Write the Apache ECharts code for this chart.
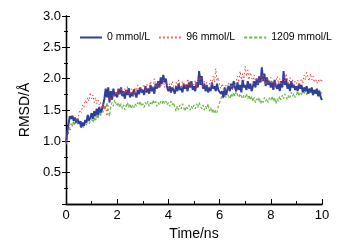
<!DOCTYPE html>
<html><head><meta charset="utf-8">
<script src="https://cdn.jsdelivr.net/npm/echarts@6/dist/echarts.min.js"></script>
<style>html,body{margin:0;padding:0;background:#fff}#c{width:350px;height:249px}</style>
</head><body><div id="c"></div>
<script>
var timeStep = 0.05;
var seriesNames = ['0 mmol/L', '96 mmol/L', '1209 mmol/L'];
var xTicks = [0, 2, 4, 6, 8, 10];
var yTicks = [0.5, 1.0, 1.5, 2.0, 2.5, 3.0];

var rmsd0 = [
0.98,1.15,1.28,1.40,1.36,1.41,1.33,1.38,1.30,1.36,1.28,1.32,1.22,1.30,1.25,1.34,1.30,1.42,1.33,1.38,
1.45,1.36,1.48,1.40,1.52,1.42,1.55,1.46,1.50,1.58,1.68,1.84,1.70,1.86,1.62,1.80,1.66,1.84,1.72,1.78,
1.70,1.84,1.75,1.86,1.72,1.80,1.68,1.82,1.74,1.85,1.70,1.78,1.72,1.83,1.76,1.70,1.82,1.75,1.86,1.78,
1.82,1.74,1.88,1.78,1.84,1.76,1.90,1.80,1.86,1.76,1.92,1.84,1.96,1.86,2.02,1.92,2.06,1.94,2.00,1.86,
1.80,1.88,1.78,1.86,1.82,1.76,1.88,1.80,1.92,1.82,1.86,1.78,1.92,1.84,1.90,1.80,1.94,1.86,1.96,1.82,
1.88,1.80,1.94,1.86,2.12,1.90,2.04,1.84,1.92,1.80,1.90,1.78,1.86,1.80,1.94,1.84,1.88,1.80,1.92,1.82,
1.84,1.76,1.80,1.70,1.86,1.74,1.82,1.88,1.80,1.92,1.84,1.96,1.86,1.80,1.94,1.82,1.90,1.78,1.98,1.86,
1.90,1.82,1.96,1.84,1.92,1.80,1.88,1.96,1.86,2.00,1.90,2.04,1.94,2.18,1.96,2.08,1.88,2.02,1.90,1.96,
1.86,1.94,1.82,1.98,1.88,1.84,1.92,1.80,1.96,1.86,2.12,1.90,2.00,1.84,1.92,1.80,1.96,1.86,1.90,1.82,
1.88,1.80,1.92,1.84,1.90,1.78,1.86,1.80,1.88,1.76,1.84,1.78,1.86,1.74,1.82,1.76,1.84,1.72,1.80,1.70,
1.66];
var rmsd96 = [
1.00,1.08,1.15,1.12,1.20,1.25,1.32,1.28,1.36,1.30,1.42,1.50,1.46,1.58,1.54,1.66,1.60,1.70,1.64,1.78,
1.68,1.74,1.62,1.70,1.60,1.66,1.58,1.62,1.52,1.60,1.50,1.58,1.40,1.56,1.62,1.70,1.66,1.76,1.72,1.80,
1.74,1.82,1.76,1.86,1.78,1.74,1.84,1.76,1.88,1.80,1.74,1.84,1.78,1.72,1.86,1.80,1.90,1.82,1.86,1.78,
1.84,1.90,1.80,1.92,1.86,1.82,1.96,1.88,1.84,2.00,1.90,1.86,1.94,1.84,1.92,1.88,1.98,1.86,1.94,1.90,
1.84,1.92,1.86,1.96,1.88,1.82,1.94,1.86,1.98,1.90,1.84,1.96,1.88,1.92,1.86,2.00,1.90,1.96,1.88,1.94,
1.90,1.98,1.86,2.02,1.94,2.06,1.92,1.86,1.96,1.88,1.94,1.84,1.92,1.98,1.88,2.04,1.94,2.16,1.96,2.02,
1.90,1.84,1.92,1.86,1.80,1.90,1.84,1.94,1.86,1.90,1.82,1.92,1.88,1.96,2.04,1.94,2.12,1.98,2.08,1.96,
2.20,2.04,2.14,1.98,2.10,2.02,1.94,2.06,1.96,2.02,1.92,1.98,2.06,1.94,2.08,1.98,1.90,2.00,1.92,1.96,
2.02,1.92,1.98,1.88,1.96,2.04,1.92,2.00,1.90,1.96,2.04,1.94,2.08,1.98,1.92,2.02,1.94,1.98,1.90,1.96,
1.92,1.98,1.88,1.94,2.00,1.92,2.06,1.98,2.10,2.02,1.96,2.08,1.98,2.04,1.94,2.00,1.92,1.98,1.94,2.00,
1.96];
var rmsd1209 = [
0.95,1.05,1.15,1.22,1.28,1.24,1.32,1.26,1.34,1.28,1.30,1.24,1.32,1.26,1.22,1.30,1.26,1.34,1.28,1.32,
1.36,1.30,1.38,1.32,1.42,1.36,1.46,1.40,1.52,1.46,1.58,1.52,1.62,1.48,1.40,1.56,1.62,1.56,1.66,1.60,
1.56,1.62,1.54,1.60,1.52,1.58,1.50,1.56,1.62,1.54,1.60,1.52,1.58,1.54,1.60,1.56,1.62,1.58,1.64,1.56,
1.60,1.54,1.62,1.58,1.64,1.56,1.62,1.58,1.66,1.60,1.64,1.56,1.62,1.58,1.64,1.60,1.66,1.60,1.64,1.58,
1.62,1.56,1.64,1.58,1.62,1.54,1.48,1.56,1.50,1.58,1.52,1.60,1.54,1.48,1.56,1.52,1.58,1.50,1.56,1.52,
1.58,1.52,1.60,1.54,1.62,1.56,1.52,1.58,1.50,1.56,1.52,1.60,1.48,1.54,1.46,1.52,1.44,1.50,1.46,1.56,
1.62,1.68,1.74,1.68,1.76,1.70,1.78,1.72,1.68,1.76,1.70,1.78,1.72,1.80,1.74,1.70,1.76,1.72,1.68,1.74,
1.70,1.76,1.68,1.74,1.66,1.72,1.64,1.70,1.62,1.68,1.64,1.70,1.60,1.66,1.62,1.70,1.64,1.68,1.62,1.70,
1.66,1.72,1.64,1.70,1.60,1.68,1.64,1.72,1.66,1.74,1.68,1.76,1.70,1.66,1.74,1.70,1.78,1.72,1.76,1.70,
1.74,1.80,1.72,1.78,1.74,1.82,1.76,1.80,1.74,1.82,1.76,1.84,1.78,1.74,1.80,1.76,1.84,1.78,1.82,1.76,
1.78];
var seriesColors = ['#2f3f9c', '#e8403a', '#6cb844'];

function pairs(arr){ return arr.map(function(v,i){ return [+(i*timeStep).toFixed(2), v]; }); }

var chart = echarts.init(document.getElementById('c'), null, {renderer:'canvas'});
var font = 'Liberation Sans, Arial, sans-serif';
var axisLine = {show:true, lineStyle:{color:'#000', width:1.3}};
chart.setOption({
  animation:false,
  backgroundColor:'#fff',
  grid:{left:66, right:28, top:16, bottom:45, containLabel:false},
  legend:{
    top:27, left:74, width:300, itemWidth:22, itemHeight:6, itemGap:8,
    itemStyle:{opacity:0},
    textStyle:{fontFamily:font, fontSize:10.5, color:'#000'},
    data:seriesNames
  },
  xAxis:[{
    type:'value', min:0, max:10, interval:2,
    name:'Time/ns', nameLocation:'middle', nameGap:23,
    nameTextStyle:{fontFamily:font, fontSize:14, color:'#000'},
    axisLine:axisLine,
    axisTick:{show:true, inside:true, length:5, lineStyle:{color:'#000'}},
    minorTick:{show:true, splitNumber:2, length:3, lineStyle:{color:'#000'}},
    axisLabel:{fontFamily:font, fontSize:13, color:'#000', margin:5,
      formatter:function(v){ return xTicks.indexOf(v)>=0 ? String(v) : ''; }},
    splitLine:{show:false}
  },{
    type:'value', min:0, max:10, interval:2, position:'top',
    axisLine:axisLine,
    axisTick:{show:true, inside:false, length:4, lineStyle:{color:'#000'}},
    minorTick:{show:true, splitNumber:2, length:2, lineStyle:{color:'#000'}},
    axisLabel:{show:false}, splitLine:{show:false}
  }],
  yAxis:[{
    type:'value', min:0, max:3, interval:0.5,
    name:'RMSD/Å', nameLocation:'middle', nameGap:30, nameRotate:90,
    nameTextStyle:{fontFamily:font, fontSize:14, color:'#000'},
    axisLine:axisLine,
    axisTick:{show:true, inside:false, length:4, lineStyle:{color:'#000'}},
    minorTick:{show:true, splitNumber:2, length:2, lineStyle:{color:'#000'}},
    axisLabel:{fontFamily:font, fontSize:13, color:'#000', margin:5,
      formatter:function(v){ var r=Math.round(v*10)/10; return yTicks.indexOf(r)>=0 ? r.toFixed(1) : ''; }},
    splitLine:{show:false}
  },{
    type:'value', min:0, max:3, interval:0.5, position:'right',
    axisLine:axisLine,
    axisTick:{show:true, inside:false, length:4, lineStyle:{color:'#000'}},
    minorTick:{show:true, splitNumber:2, length:2, lineStyle:{color:'#000'}},
    axisLabel:{show:false}, splitLine:{show:false}
  }],
  series:[
    {name:seriesNames[0], type:'line', data:pairs(rmsd0), showSymbol:false, symbol:'none',
     lineStyle:{color:seriesColors[0], width:2}, itemStyle:{color:seriesColors[0]}, z:3},
    {name:seriesNames[1], type:'line', data:pairs(rmsd96), showSymbol:false, symbol:'none',
     lineStyle:{color:seriesColors[1], width:1, type:[1.5,2.5]}, itemStyle:{color:seriesColors[1]}, z:4},
    {name:seriesNames[2], type:'line', data:pairs(rmsd1209), showSymbol:false, symbol:'none',
     lineStyle:{color:seriesColors[2], width:1.2, type:[3,2]}, itemStyle:{color:seriesColors[2]}, z:2}
  ]
});
</script></body></html>
